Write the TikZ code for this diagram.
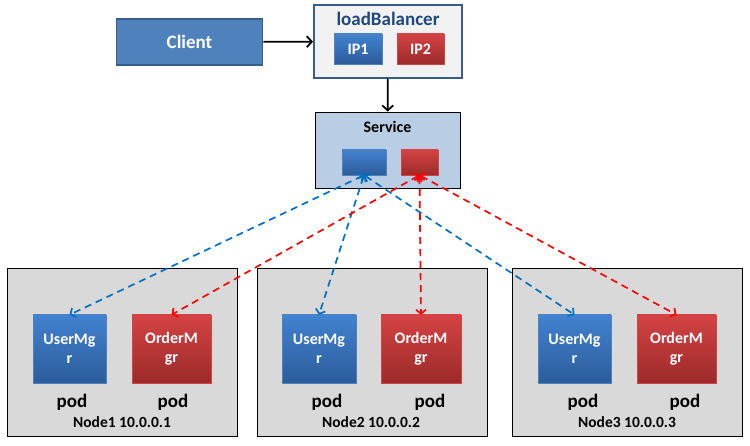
\documentclass[tikz,border=0pt]{standalone}
\usepackage{fontspec}
\setmainfont{Carlito}
\usetikzlibrary{arrows.meta,shadows}

\definecolor{clientblue}{HTML}{4F81BD}
\definecolor{edgeblue}{HTML}{385D8A}
\definecolor{lbgrey}{HTML}{F2F2F2}
\definecolor{lbtext}{HTML}{1F497D}
\definecolor{svcfill}{HTML}{B9CDE5}
\definecolor{nodegrey}{HTML}{D9D9D9}
\definecolor{podbluetop}{HTML}{4282D0}
\definecolor{podbluebot}{HTML}{2C5C9A}
\definecolor{podredtop}{HTML}{D44343}
\definecolor{podredbot}{HTML}{9C2A2A}
\definecolor{linkblue}{HTML}{0070C0}
\definecolor{linkred}{HTML}{FF0000}

\begin{document}
\begin{tikzpicture}[x=1pt, y=-1pt,
  box/.style={inner sep=0pt, align=center, font=\bfseries},
  bluepod/.style={box, text=white, draw=clientblue, top color=podbluetop, bottom color=podbluebot,
    drop shadow={opacity=0.25, shadow xshift=1pt, shadow yshift=-1.5pt}},
  redpod/.style={box, text=white, draw=podredtop, top color=podredtop, bottom color=podredbot,
    drop shadow={opacity=0.25, shadow xshift=1pt, shadow yshift=-1.5pt}},
  host/.style={box, draw=black, fill=nodegrey, line width=0.8pt},
  podsize/.style={minimum width=#1, minimum height=68pt, font=\fontsize{16}{19}\selectfont\bfseries},
  label/.style={inner sep=0pt, font=\bfseries},
  link/.style={line width=1.7pt, dash pattern=on 7pt off 5pt, {Straight Barb[length=4pt,width=10pt]}-{Straight Barb[length=4pt,width=10pt]}},
  call/.style={line width=1.8pt, -{Straight Barb[length=5pt,width=11pt]}}
]

  \useasboundingbox (0,0) rectangle (750,446);

  % top row
  \node[box, draw=edgeblue, fill=clientblue, line width=1.5pt, text=white, minimum width=146pt, minimum height=46pt,
    font=\fontsize{19}{22}\selectfont\bfseries] (client) at (189.5,42) {Client};
  \node[box, draw=edgeblue, fill=lbgrey, line width=2pt, minimum width=148pt, minimum height=73pt] (lb) at (388,41.5) {};
  \node[label, text=lbtext, font=\fontsize{19}{22}\selectfont\bfseries] (lbname) at (388,19) {loadBalancer};
  \node[bluepod, minimum width=48pt, minimum height=30pt, font=\fontsize{16}{18}\selectfont\bfseries] (ipa) at (358,49) {IP1};
  \node[redpod, minimum width=47pt, minimum height=30pt, font=\fontsize{16}{18}\selectfont\bfseries] (ipb) at (420.5,49) {IP2};

  % service
  \node[box, draw=black, fill=svcfill, line width=0.8pt, minimum width=145pt, minimum height=76pt] (svc) at (387.5,150) {};
  \node[label, font=\fontsize{16}{18}\selectfont\bfseries] (svcname) at (387.5,127) {Service};
  \node[bluepod, minimum width=44pt, minimum height=25pt] (svcuser) at (364,162.5) {};
  \node[redpod, minimum width=37pt, minimum height=25pt] (svcorder) at (419.5,162.5) {};

  % hosts
  \node[host, minimum width=230pt, minimum height=168pt] (hosta) at (122,352) {};
  \node[host, minimum width=230pt, minimum height=168pt] (hostb) at (372,352) {};
  \node[host, minimum width=230pt, minimum height=168pt] (hostc) at (627,352) {};

  \node[bluepod, podsize=73pt] (usera) at (69.5,349) {UserMg\\r};
  \node[redpod, podsize=79pt] (ordera) at (171.5,349) {OrderM\\gr};
  \node[bluepod, podsize=74pt] (userb) at (319,349) {UserMg\\r};
  \node[redpod, podsize=80pt] (orderb) at (421,349) {OrderM\\gr};
  \node[bluepod, podsize=73pt] (userc) at (574.5,349) {UserMg\\r};
  \node[redpod, podsize=79pt] (orderc) at (676.5,349) {OrderM\\gr};

  \node[label, font=\fontsize{19}{22}\selectfont\bfseries] (poda) at (72,402) {pod};
  \node[label, font=\fontsize{19}{22}\selectfont\bfseries] (podb) at (173,402) {pod};
  \node[label, font=\fontsize{19}{22}\selectfont\bfseries] (podc) at (327,402) {pod};
  \node[label, font=\fontsize{19}{22}\selectfont\bfseries] (podd) at (430,402) {pod};
  \node[label, font=\fontsize{19}{22}\selectfont\bfseries] (pode) at (583,402) {pod};
  \node[label, font=\fontsize{19}{22}\selectfont\bfseries] (podf) at (685,402) {pod};

  \node[label, font=\fontsize{15.5}{18}\selectfont\bfseries] (hostaname) at (122,422) {Node1 10.0.0.1};
  \node[label, font=\fontsize{15.5}{18}\selectfont\bfseries] (hostbname) at (371,422) {Node2 10.0.0.2};
  \node[label, font=\fontsize{15.5}{18}\selectfont\bfseries] (hostcname) at (627,422) {Node3 10.0.0.3};

  \draw[call] (client) -- (lb); %% client->lb
  \draw[call] (lb) -- (svc); %% lb->svc

  \draw[link, linkblue] (svcuser.south) -- (usera.north); %% svc<->user1
  \draw[link, linkblue] (svcuser.south) -- (userb.north); %% svc<->user2
  \draw[link, linkblue] (svcuser.south) -- (userc.north); %% svc<->user3
  \draw[link, linkred] (svcorder.south) -- (ordera.north); %% svc<->order1
  \draw[link, linkred] (svcorder.south) -- (orderb.north); %% svc<->order2
  \draw[link, linkred] (svcorder.south) -- (orderc.north); %% svc<->order3
\end{tikzpicture}
\end{document}
